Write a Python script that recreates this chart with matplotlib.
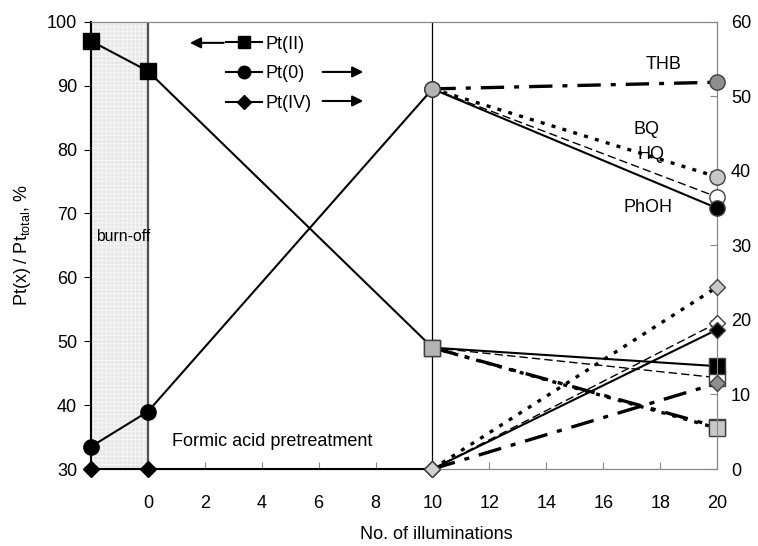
import matplotlib
matplotlib.use('Agg')
import matplotlib.pyplot as plt
from matplotlib.lines import Line2D

plt.rcParams['font.family'] = ['Liberation Sans', 'DejaVu Sans']
plt.rcParams['mathtext.default'] = 'regular'
plt.rcParams['hatch.linewidth'] = 0.6

# pretreatment part: burn-off (-2), after burn-off (0), after formic acid (10)
x_pre = [-2, 0, 10]
pt2_pre = [97.0, 92.3, 49.0]   # left axis
pt0_pre = [3.0, 7.7, 51.0]     # right axis
pt4_pre = [0.0, 0.0, 0.0]      # right axis

# after 20 illuminations with the different additives
additives = ['THB', 'HQ', 'BQ', 'PhOH']
pt2_end = [36.6, 44.3, 36.4, 46.1]
pt0_end = [51.9, 36.5, 39.2, 35.0]
pt4_end = [11.5, 19.6, 24.4, 18.7]
x_end = [10, 20]

STYLE = {
    'PhOH': dict(color='black', lw=1.5, ls='-', mfc='black'),
    'HQ': dict(color='black', lw=1.0, ls=(0, (6, 3)), mfc='white'),
    'BQ': dict(color='black', lw=2.4, ls=(0, (1.2, 2.2)), mfc='#c8c8c8'),
    'THB': dict(color='black', lw=2.4, ls=(0, (7, 3, 1.5, 3)), mfc='#8e8e8e'),
}
LABEL_POS = {'THB': (17.5, 93.4), 'BQ': (17.05, 83.1), 'HQ': (17.2, 79.2), 'PhOH': (16.7, 70.9)}
MID_GRAY = '#b4b4b4'

fig = plt.figure(figsize=(7.58, 5.46), dpi=100)
ax = fig.add_axes([0.120, 0.141, 0.826, 0.819])
ax2 = ax.twinx()

# burn-off band
ax.axvspan(-2, 0, facecolor='#e8e8e8', hatch='++++', edgecolor='#f8f8f8', lw=0, zorder=0)
ax.axvline(0, color='#505050', lw=1.6, zorder=1)
ax.axvline(10, color='black', lw=0.9, zorder=1)

# pretreatment series
ax.plot(x_pre, pt2_pre, color='black', lw=1.5, marker='s', ms=11, mfc='black', mec='black', zorder=3, clip_on=False)
ax.plot(x_pre[2], pt2_pre[2], marker='s', ms=11, mfc=MID_GRAY, mec='#404040', zorder=4)
ax2.plot(x_pre, pt0_pre, color='black', lw=1.5, marker='o', ms=11, mfc='black', mec='black', zorder=3, clip_on=False)
ax2.plot(x_pre, pt4_pre, color='black', lw=1.5, marker='D', ms=8, mfc='black', mec='black', zorder=3, clip_on=False)

# additive series
for i, name in enumerate(additives):
    st = STYLE[name]
    ax.plot(x_end, [pt2_pre[2], pt2_end[i]], color=st['color'], lw=st['lw'], ls=st['ls'], zorder=2)
    ax.plot(x_end[1], pt2_end[i], marker='s', ms=11, mfc=st['mfc'], mec='#404040', ls='none', zorder=5, clip_on=False)
    ax2.plot(x_end, [pt0_pre[2], pt0_end[i]], color=st['color'], lw=st['lw'], ls=st['ls'], zorder=2)
    ax2.plot(x_end[1], pt0_end[i], marker='o', ms=11, mfc=st['mfc'], mec='#404040', ls='none', zorder=5, clip_on=False)
    ax2.plot(x_end, [pt4_pre[2], pt4_end[i]], color=st['color'], lw=st['lw'], ls=st['ls'], zorder=2)
    ax2.plot(x_end[1], pt4_end[i], marker='D', ms=8, mfc=st['mfc'], mec='#404040', ls='none', zorder=5, clip_on=False)
    lx, ly = LABEL_POS[name]
    ax.text(lx, ly, name, fontsize=13, ha='left', va='center', zorder=6)

ax2.plot(x_pre[2], pt0_pre[2], marker='o', ms=11, mfc=MID_GRAY, mec='#404040', zorder=6)
ax2.plot(x_pre[2], pt4_pre[2], marker='D', ms=8, mfc='#d0d0d0', mec='#404040', zorder=6, clip_on=False)

ax.text(-1.82, 66.4, 'burn-off', fontsize=11.3, ha='left', va='center', zorder=6)
ax.text(0.84, 34.3, 'Formic acid pretreatment', fontsize=13, ha='left', va='center', zorder=6)

# axes
ax.set_xlim(-2, 20)
ax.set_ylim(30, 100)
ax2.set_ylim(0, 60)
ax.set_xticks(range(0, 21, 2))
ax.set_yticks(range(30, 101, 10))
ax2.set_yticks(range(0, 61, 10))
ax.tick_params(axis='x', direction='in', length=5, color='#888888', labelsize=13, pad=19)
ax.tick_params(axis='y', direction='out', length=5, labelsize=13, pad=5)
ax2.tick_params(axis='y', direction='in', length=5, color='#888888', labelsize=13, pad=10)
for a in (ax, ax2):
    for side in ('top', 'right', 'bottom'):
        a.spines[side].set_color('#888888')
    a.spines['left'].set_color('black')
    a.spines['left'].set_linewidth(1.5)

ax.set_xlabel('No. of illuminations', fontsize=13, x=0.551, labelpad=10)
ax.set_ylabel('Pt(x) / Pt$_{total}$, %', fontsize=13, labelpad=10)

# legend with axis arrows
handles = [
    Line2D([], [], color='black', lw=1.5, marker='s', ms=9, mfc='black'),
    Line2D([], [], color='black', lw=1.5, marker='o', ms=9, mfc='black'),
    Line2D([], [], color='black', lw=1.5, marker='D', ms=7, mfc='black'),
]
leg = ax2.legend(handles, ['Pt(II)', 'Pt(0)', 'Pt(IV)'], loc='upper left',
                 bbox_to_anchor=(0.215, 0.969), frameon=False, fontsize=13,
                 handlelength=2.0, handletextpad=0.2, borderpad=0, borderaxespad=0,
                 labelspacing=0.7)
arrow = dict(arrowstyle='-|>', color='black', lw=1.5, mutation_scale=16, shrinkA=0, shrinkB=0)
ax2.annotate('', xy=(0.158, 0.953), xytext=(0.212, 0.953), xycoords='axes fraction', arrowprops=arrow)
ax2.annotate('', xy=(0.435, 0.888), xytext=(0.37, 0.888), xycoords='axes fraction', arrowprops=arrow)
ax2.annotate('', xy=(0.435, 0.823), xytext=(0.37, 0.823), xycoords='axes fraction', arrowprops=arrow)

plt.savefig('out.png', dpi=100, facecolor='white')
